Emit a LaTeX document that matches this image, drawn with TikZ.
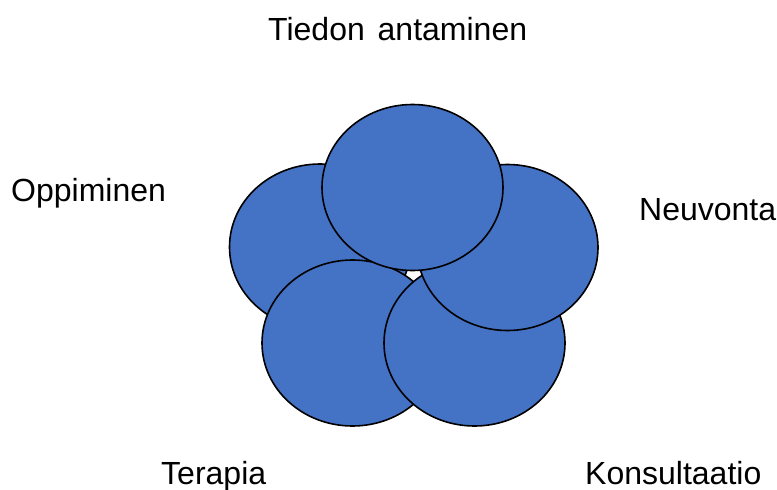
\documentclass[tikz,border=0pt]{standalone}
\usepackage{fontspec}
\setmainfont{Liberation Sans}
\usetikzlibrary{shapes.geometric}
\definecolor{petal}{HTML}{4472C4}
\tikzset{
  petal/.style={ellipse, draw=black, line width=1.6pt, fill=petal, inner sep=0pt,
    minimum width=181pt, minimum height=166pt},
  lbl/.style={anchor=base west, inner sep=0pt, font=\fontsize{32}{38}\selectfont}
}
\begin{document}
\begin{tikzpicture}[x=1pt,y=-1pt]
\useasboundingbox (0,0) rectangle (777,490);
\node[petal] (opp) at (320,247) {};
\node[petal] (ter) at (352.5,343) {};
\node[petal] (kon) at (474.5,343) {};
\node[petal] (neu) at (507.5,247.5) {};
\node[petal] (tie) at (412.5,187.5) {};
\node[lbl] (tietxt) at (268,40) {Tiedon\hspace{4pt} antaminen};
\node[lbl] (opptxt) at (11,201) {Oppiminen};
\node[lbl] (neutxt) at (639,220) {Neuvonta};
\node[lbl] (tertxt) at (161,484) {Terapia};
\node[lbl] (kontxt) at (585,484) {Konsultaatio};
\end{tikzpicture}
\end{document}
